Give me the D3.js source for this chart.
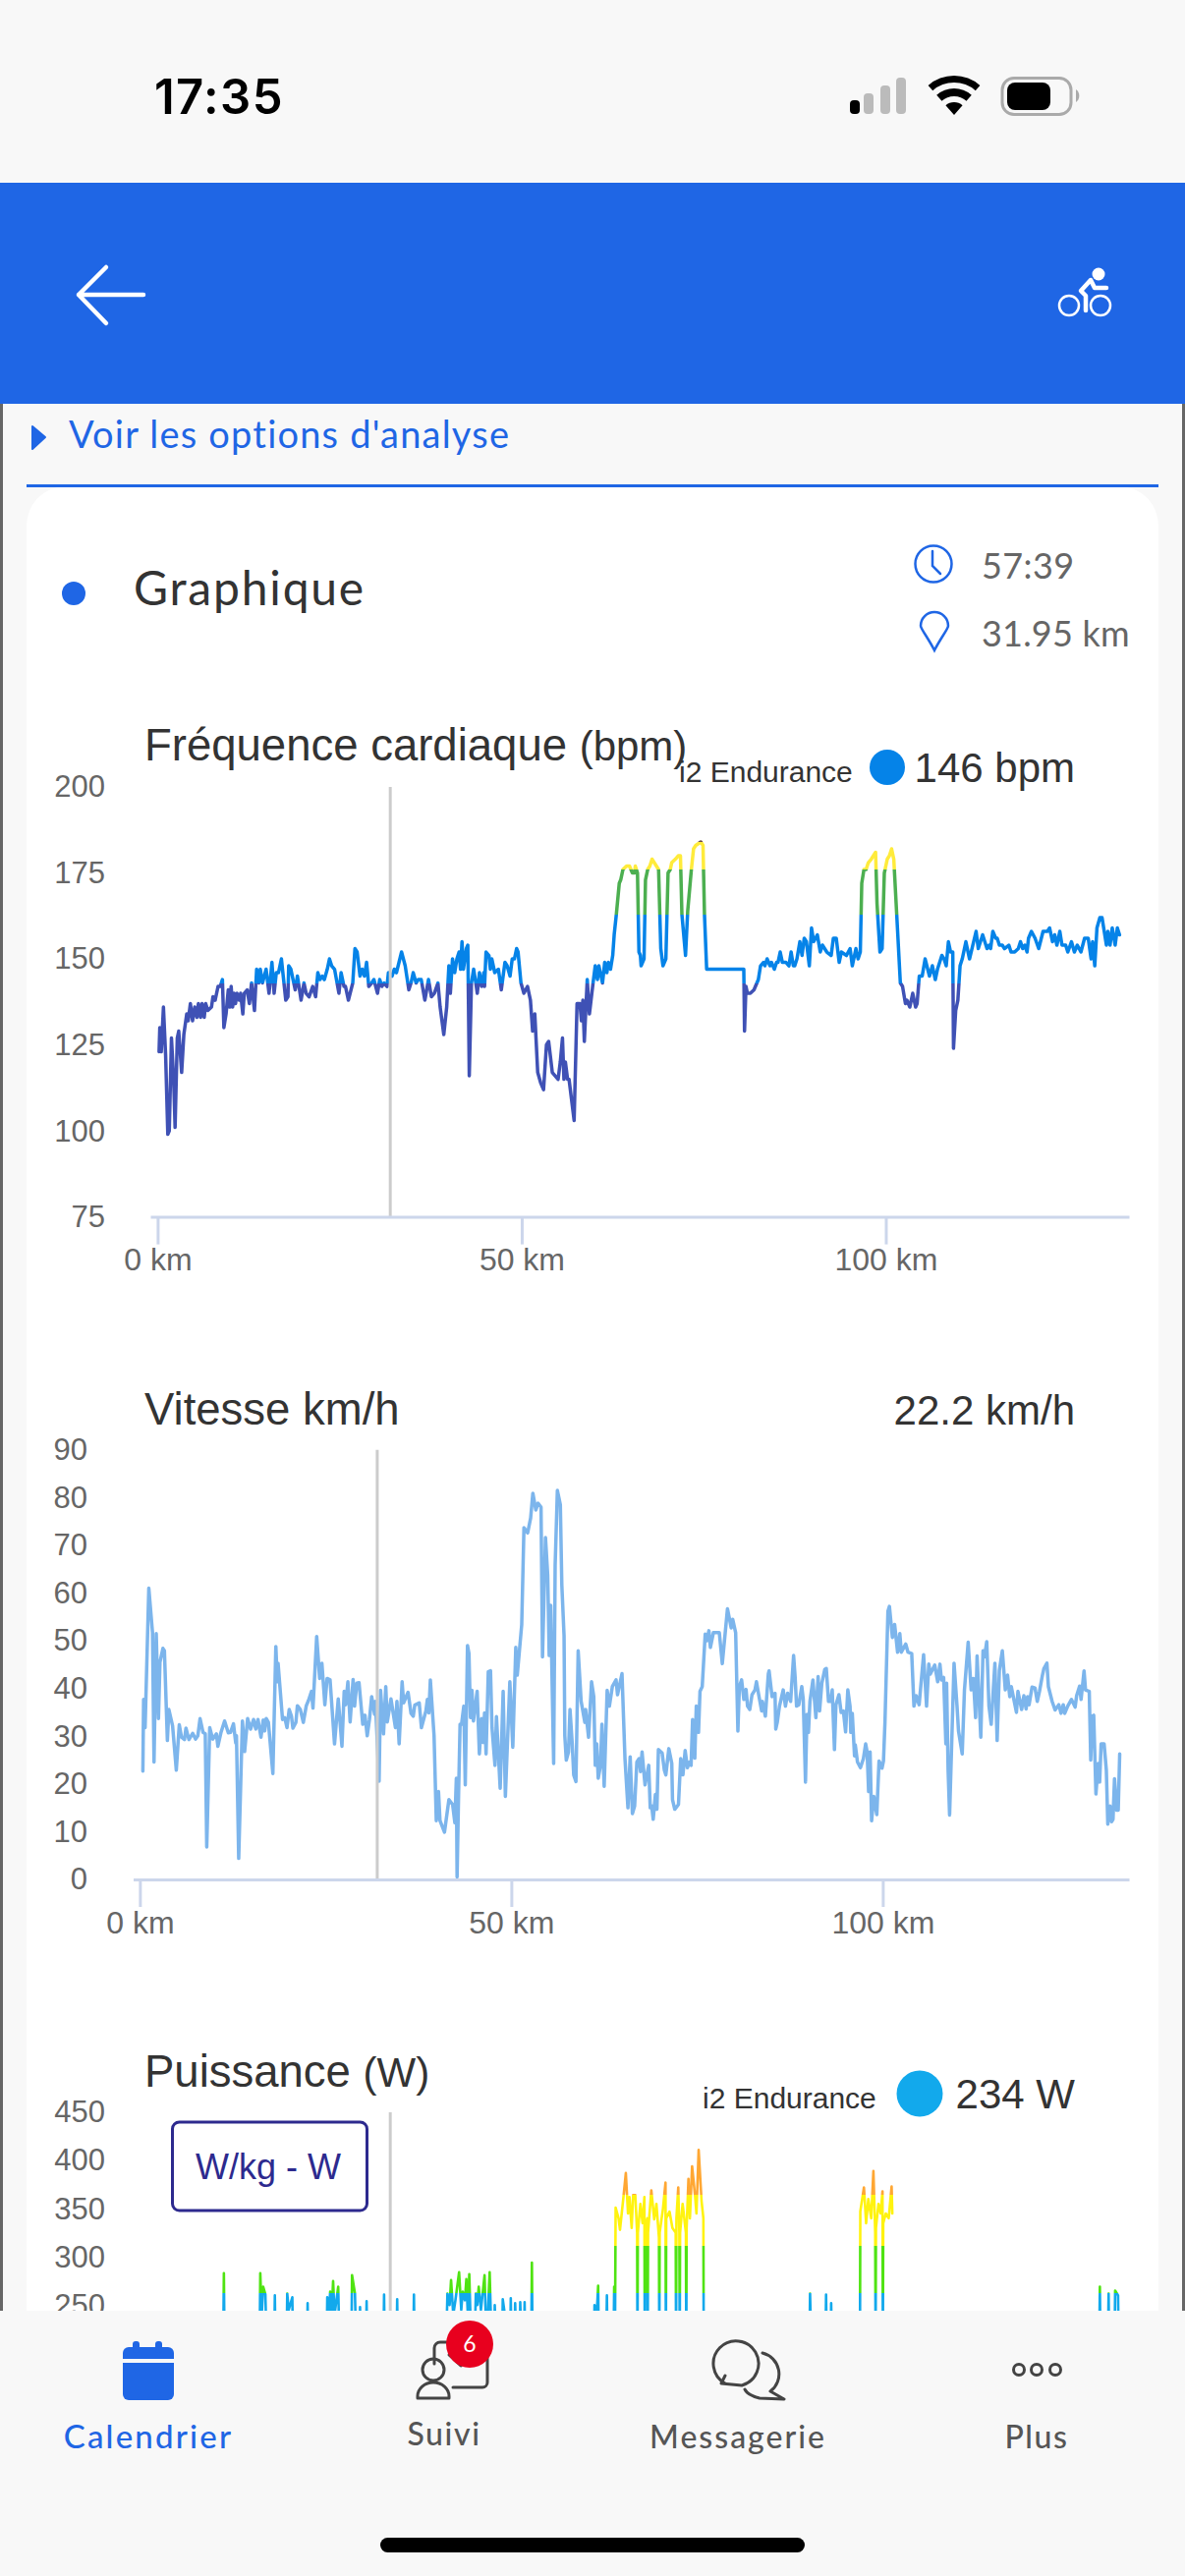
<!DOCTYPE html>
<html>
<head>
<meta charset="utf-8">
<script src="https://cdn.jsdelivr.net/npm/d3@7"></script>
<style>
html, body { margin: 0; padding: 0; background: #f8f8f8; }
svg { display: block; }
.chart text { font-family: "Liberation Sans", Arial, sans-serif; }
.app { font-family: Lato, sans-serif; }
.tick text { fill: #666; }
</style>
</head>
<body>
<svg width="1206" height="2622"></svg>
<script>
// values: [km, value]
var heartRate = [[0.2,123],[0.3,130],[0.5,123],[0.8,136],[1.1,122],[1.4,99],[1.6,100],[1.9,127],[2.2,115],[2.4,101],[2.7,127],[2.9,129],[3.3,117],[3.6,128],[4.0,134],[4.2,132],[4.5,137],[4.8,132],[5.1,136],[5.4,133],[5.6,137],[5.9,133],[6.1,137],[6.4,133],[6.6,137],[6.9,135],[7.4,136],[7.6,139],[7.9,138],[8.3,142],[8.6,142],[8.9,144],[9.1,130],[9.4,134],[9.7,141],[9.9,136],[10.1,142],[10.3,136],[10.5,140],[10.7,137],[10.9,140],[11.2,138],[11.4,140],[11.7,134],[11.9,140],[12.3,141],[12.6,137],[12.9,143],[13.3,135],[13.6,147],[13.9,143],[14.1,147],[14.4,143],[14.9,147],[15.3,140],[15.7,149],[16.0,140],[16.3,146],[16.6,146],[17.0,150],[17.6,138],[17.9,139],[18.0,148],[18.3,147],[18.6,144],[18.9,141],[19.2,145],[19.7,138],[20.1,143],[20.4,140],[20.8,139],[21.3,142],[21.7,139],[22.0,146],[22.3,144],[22.6,145],[22.9,144],[23.3,147],[23.6,150],[23.9,148],[24.3,147],[24.9,140],[25.2,146],[25.6,142],[25.8,142],[26.2,138],[26.8,143],[27.1,153],[27.4,152],[27.8,145],[28.1,147],[28.4,145],[28.7,149],[29.0,142],[29.4,143],[29.7,144],[30.2,140],[30.5,144],[30.8,142],[31.1,143],[31.5,142],[31.7,146],[32.2,145],[32.5,147],[32.8,146],[33.5,152],[34.0,148],[34.5,141],[34.8,143],[35.1,146],[35.5,143],[35.8,144],[36.2,144],[36.7,138],[37.2,144],[37.6,139],[38.0,140],[38.5,143],[38.8,136],[39.3,128],[39.7,136],[40.0,148],[40.2,140],[40.5,150],[40.8,146],[41.1,150],[41.4,152],[41.6,147],[41.8,155],[42.0,147],[42.4,153],[42.6,154],[42.8,116],[43.1,143],[43.4,147],[43.7,143],
[43.9,140],[44.2,146],[44.5,142],[44.8,146],[44.9,142],[45.1,152],[45.5,151],[45.7,147],[45.9,150],[46.3,146],[46.8,147],[47.2,141],[47.7,149],[48.0,148],[48.4,145],[48.7,150],[49.0,150],[49.3,153],[49.5,152],[49.9,143],[50.3,140],[50.8,142],[51.2,138],[51.5,129],[51.8,134],[52.2,117],[52.6,114],[53.0,112],[53.4,125],[53.7,126],[54.2,117],[54.6,116],[55.0,115],[55.3,120],[55.6,127],[55.8,115],[56.0,120],[56.3,115],[56.5,115],[57.2,103],[57.6,137],[58.0,137],[58.2,132],[58.4,138],[58.6,126],[59.0,144],[59.3,134],[59.8,143],[60.1,148],[60.4,144],[60.6,148],[61.1,143],[61.4,149],[61.7,146],[61.9,149],[62.2,147],[62.5,151],[62.7,157],[63.0,163],[63.4,172],[63.6,173],[63.9,176],[64.4,177],[64.8,177],[65.2,175],[65.5,175],[65.6,177],[65.9,175],[66.1,152],[66.3,151],[66.4,148],[66.8,150],[67.0,173],[67.3,176],[67.6,177],[67.9,179],[68.2,178],[68.8,176],[69.1,153],[69.4,148],[69.8,150],[70.1,175],[70.4,176],[70.6,178],[71.1,179],[71.5,180],[71.8,180],[72.0,163],[72.5,151],[72.8,164],[73.3,176],[73.6,182],[73.9,183],[74.6,184],[74.9,183],[75.1,163],[75.4,147],[80.5,147],[80.6,129],[80.8,142],[81.0,140],[81.4,140],[81.9,141],[82.5,144],[82.8,148],[83.2,149],[83.4,148],[83.7,150],[84.1,148],[84.3,149],[84.7,147],[85.0,149],[85.2,149],[85.5,152],[85.8,149],[86.3,149],[86.7,148],[87.0,152],[87.3,148],
[87.5,148],[87.8,150],[88.2,155],[88.5,151],[88.8,156],[89.1,155],[89.5,148],[89.8,159],[90.1,155],[90.6,157],[91.0,152],[91.3,154],[91.9,152],[92.5,151],[92.8,156],[93.2,156],[93.6,149],[93.9,152],[94.6,151],[95.1,153],[95.4,148],[95.9,153],[96.2,150],[96.5,152],[96.7,172],[97.0,176],[97.3,176],[97.6,178],[98.0,179],[98.6,181],[98.8,166],[99.2,152],[99.5,153],[99.8,175],[100.2,179],[100.5,180],[100.8,182],[101.1,179],[101.5,163],[102.0,143],[102.3,142],[102.7,137],[102.9,138],[103.3,136],[103.7,140],[104.1,136],[104.3,137],[104.6,145],[105.0,145],[105.4,150],[106.0,145],[106.4,148],[106.8,144],[107.1,147],[107.7,151],[108.0,150],[108.3,148],[108.6,155],[108.9,152],[109.2,152],[109.3,124],[109.6,135],[109.9,138],[110.2,148],[110.5,150],[111.0,155],[111.5,150],[112.4,158],[112.7,153],[113.3,157],[113.9,153],[114.2,154],[114.4,153],[114.7,158],[115.1,156],[115.3,156],[115.6,154],[116.0,154],[116.3,153],[116.9,154],[117.2,152],[117.7,152],[118.2,153],[118.5,155],[118.8,153],[119.1,154],[119.4,152],[119.6,156],[120.0,158],[120.5,156],[121.0,153],[121.6,158],[122.2,158],[122.5,159],[122.9,155],[123.2,157],[123.5,154],[123.9,158],[124.2,154],[124.7,154],[125.0,152],[125.5,155],[125.9,152],[126.3,154],[126.8,152],[127.3,156],[127.8,156],[128.2,150],[128.4,155],[128.7,148],[129.0,159],[129.4,162],[129.7,162],[130.3,154],[130.5,158],[130.8,154],[131.1,159],[131.5,154],[131.8,159],[132.1,157]];

var speed = [[0.4,22.7],[0.5,37.7],[0.7,31.8],[1.2,61.0],[1.7,51.7],[1.9,24.6],[2.2,51.5],[2.5,33.7],[2.7,45.5],[3.1,48.4],[3.3,47.9],[3.7,29.1],[3.9,35.6],[4.4,32.2],[4.9,22.9],[5.3,32.4],[5.6,29.8],[6.0,29.3],[6.2,31.7],[6.6,29.3],[7.1,30.6],[7.5,29.4],[7.8,30.1],[8.1,33.7],[8.5,30.8],[8.8,30.5],[9.0,6.8],[9.4,31.8],[9.8,29.4],[10.3,30.5],[10.5,27.9],[10.9,30.7],[11.4,33.2],[11.9,30.7],[12.2,30.8],[12.6,32.6],[12.9,28.6],[13.0,30.1],[13.3,4.4],[13.8,33.2],[14.1,26.8],[14.5,33.7],[14.9,31.5],[15.3,33.5],[15.6,31.5],[15.9,33.5],[16.3,29.8],[16.6,33.4],[16.8,31.1],[17.0,33.7],[17.3,32.9],[17.9,22.2],[18.3,48.8],[18.5,41.4],[18.6,45.3],[19.2,33.5],[19.5,33.9],[19.8,31.8],[20.1,35.6],[20.4,34.2],[20.6,31.7],[21.0,32.9],[21.2,36.4],[21.6,35.6],[22.0,32.9],[22.4,36.4],[22.7,37.5],[23.1,39.4],[23.3,35.9],[23.8,50.9],[24.2,42.1],[24.5,45.3],[24.9,36.6],[25.2,42.1],[25.6,41.8],[26.2,28.4],[26.7,37.8],[27.2,27.9],[27.5,39.4],[27.7,36.6],[28.0,41.4],[28.3,33.0],[28.7,41.9],[28.9,36.3],[29.2,41.1],[29.5,41.2],[30.0,32.5],[30.3,34.4],[30.6,30.1],[30.9,33.5],[31.2,38.3],[31.6,34.6],[31.7,37.3],[32.2,20.6],[32.4,39.6],[32.8,30.5],[33.1,40.4],[33.3,33.0],[33.8,37.8],[34.4,31.8],[34.6,37.3],[34.9,28.4],[35.3,41.4],[35.5,37.0],[36.1,39.2],[36.5,34.8],[36.8,34.2],[37.0,36.5],[37.6,37.0],[37.9,31.8],[38.5,35.3],[38.7,37.7],[38.9,34.9],[39.1,41.8],[39.6,30.1],[39.9,12.3],[40.2,18.4],[40.4,12.3],[41.0,9.9],[41.6,16.7],
[42.1,15.7],[42.4,11.9],[42.6,21.2],[42.7,0.5],[42.9,17.8],[43.1,32.5],[43.3,32.5],[43.6,36.3],[43.8,19.8],[44.1,49.0],[44.3,47.3],[44.5,33.9],[44.7,39.6],[44.9,33.2],[45.4,39.4],[45.7,26.3],[46.0,33.7],[46.2,28.7],[46.4,34.9],[46.6,26.3],[46.9,43.5],[47.2,43.7],[47.4,31.8],[47.8,23.9],[48.0,34.1],[48.5,19.1],[48.9,39.4],[49.2,17.4],[49.8,41.4],[50.2,27.7],[50.6,48.6],[50.8,42.8],[51.4,53.4],[51.7,73.7],[52.2,72.6],[52.6,75.7],[52.9,80.9],[53.3,77.4],[53.6,78.8],[54.0,78.0],[54.2,46.6],[54.6,71.6],[54.9,63.7],[55.1,46.9],[55.3,57.4],[55.7,24.3],[55.9,65.8],[56.2,81.5],[56.6,78.5],[56.8,61.7],[57.1,51.0],[57.2,30.1],[57.4,25.0],[57.7,26.7],[57.9,35.6],[58.2,28.4],[58.4,21.9],[58.7,20.5],[59.0,47.9],[59.4,37.3],[59.9,32.9],[60.0,35.6],[60.4,29.8],[60.8,41.4],[61.1,38.3],[61.3,23.9],[61.5,28.4],[61.7,21.2],[62.0,23.9],[62.2,32.5],[62.5,19.5],[62.9,39.6],[63.2,36.3],[63.6,40.4],[64.1,41.8],[64.3,38.7],[64.9,43.1],[65.3,25.3],[65.7,15.0],[66.0,25.7],[66.3,13.8],[66.6,15.4],[66.9,24.6],[67.2,25.3],[67.4,22.6],[67.6,26.7],[68.0,19.8],[68.5,23.9],[68.7,15.0],[68.9,15.4],[69.1,12.6],[69.4,17.8],[69.6,14.7],[69.8,27.2],[70.3,26.5],[70.6,22.9],[70.8,21.9],[71.0,24.6],[71.2,27.4],[71.6,24.3],[71.7,16.7],[72.0,14.7],[72.5,15.7],[72.8,25.3],[73.1,21.9],[73.4,27.0],[73.7,23.4],[74.0,24.6],[74.2,23.9],[74.4,33.5],[74.7,25.4],[74.9,36.3],[75.2,30.8],[75.4,39.4],[75.7,40.4],[76.1,51.4],[76.3,50.0],[76.6,52.1],[76.8,48.6],[77.2,51.7],[78.0,51.7],[78.4,45.2],[79.1,56.7],[79.6,52.7],[79.8,54.5],[80.2,51.7],[80.5,31.1],[80.7,40.4],[81.0,41.8],[81.3,37.7],[81.6,39.8],[81.8,36.3],[82.1,35.6],[82.4,38.7],[82.8,39.7],[83.0,41.4],[83.3,38.7],[83.7,35.3],[83.8,37.3],[84.2,34.2],[84.6,43.1],[84.7,43.7],[85.1,38.3],[85.5,39.0],[85.6,31.5],[85.8,32.9],[86.1,36.3],[86.6,39.7],[86.9,36.3],[87.2,39.0],[87.6,37.3],[88.0,46.9],[88.2,42.5],[88.4,36.3],[88.7,36.6],[89.1,40.4],[89.3,37.7],[89.6,20.4],[89.8,34.6],[90.0,30.8],[90.2,37.3],[90.6,41.8],
[91.0,33.9],[91.3,42.5],[91.5,35.3],[91.8,41.1],[92.2,44.0],[92.4,44.2],[92.7,37.3],[93.0,37.3],[93.2,39.7],[93.5,27.2],[93.7,36.6],[94.1,38.7],[94.4,35.0],[94.7,35.3],[95.0,30.9],[95.3,39.7],[95.6,36.3],[95.7,30.8],[95.9,34.8],[96.2,25.9],[96.3,28.2],[96.6,24.6],[97.0,23.4],[97.4,25.3],[97.7,28.4],[97.9,26.7],[98.1,18.4],[98.3,26.7],[98.5,12.3],[98.8,17.4],[99.2,13.6],[99.5,24.8],[99.8,23.9],[99.9,23.3],[100.1,24.8],[100.3,32.9],[100.7,56.2],[100.9,57.2],[101.3,50.7],[101.6,53.4],[102.0,47.6],[102.3,51.5],[102.5,47.6],[103.1,49.3],[103.4,47.6],[103.9,47.3],[104.2,36.3],[104.5,38.5],[104.9,36.6],[105.5,47.1],[105.9,36.3],[106.2,45.1],[106.4,43.0],[107.0,44.9],[107.4,41.4],[107.7,45.1],[107.9,41.8],[108.2,42.3],[108.5,28.4],[108.6,41.1],[108.8,22.9],[109.0,13.5],[109.6,45.3],[110.0,36.3],[110.2,31.1],[110.7,26.3],[111.0,39.7],[111.5,49.7],[111.9,39.7],[112.2,42.1],[112.5,33.9],[112.7,46.8],[113.2,29.8],[113.5,47.9],[113.7,46.6],[114.0,49.8],[114.3,36.3],[114.6,32.5],[115.1,45.3],[115.4,29.1],[115.7,43.8],[116.1,47.9],[116.5,39.7],[116.8,42.8],[117.1,38.3],[117.3,40.4],[118.0,35.0],[118.2,39.4],[118.7,35.6],[119.0,38.5],[119.3,35.7],[119.5,38.3],[119.7,36.6],[120.1,40.3],[120.5,40.1],[120.8,37.3],[121.1,39.4],[121.5,42.8],[121.7,44.2],[122.1,45.3],[122.3,40.4],[122.8,37.3],[123.2,35.5],[123.7,36.6],[124.0,34.8],[124.3,36.6],[124.5,34.8],[124.9,36.3],[125.4,37.7],[125.9,36.1],[126.1,38.5],[126.5,40.5],[126.7,37.7],[127.1,43.7],[127.3,39.7],[127.8,39.4],[128.0,25.0],[128.2,34.2],[128.4,34.4],[128.7,17.9],[129.0,24.3],[129.2,20.4],[129.4,28.4],[129.8,28.4],[130.1,22.9],[130.3,11.6],[130.6,15.4],[130.8,12.1],[131.0,12.6],[131.2,21.1],[131.5,14.5],[131.7,14.5],[131.9,26.3]];

// only the top of this series is visible, the rest sits behind the tab bar
var power = [[0.2,200],[9.0,200],[9.1,283],[9.2,200],[14.0,200],[14.1,283],[14.3,240],[14.5,269],[14.8,261],[15.0,200],[16.0,200],[16.1,260],[16.2,200],[17.7,200],[17.8,262],[18.0,245],[18.5,258],[18.6,200],[20.5,200],[20.6,252],[20.7,200],[23.2,200],[23.3,258],[23.5,240],[23.7,264],[23.9,240],[24.1,275],[24.3,240],[24.8,269],[25.0,200],[26.6,200],[26.7,281],[27.1,262],[27.3,200],[27.7,200],[27.8,248],[27.9,200],[28.6,200],[28.7,254],[28.8,200],[31.0,200],[31.1,261],[31.2,200],[32.8,200],[32.9,256],[33.0,200],[35.1,200],[35.2,261],[35.3,200],[39.6,200],[39.8,262],[40.1,250],[40.3,276],[40.6,240],[40.9,255],[41.4,284],[41.7,245],[41.9,264],[42.2,255],[42.4,277],[42.6,240],[42.8,282],[43.1,200],[43.5,200],[43.7,262],[43.9,250],[44.1,269],[44.4,245],[44.9,281],[45.2,200],[45.4,250],[45.6,284],[45.9,200],[46.2,200],[46.3,250],[46.5,200],[47.3,200],[47.4,256],[47.6,245],[48.4,200],[48.5,257],[48.6,200],[49.0,200],[49.1,252],[49.3,200],[49.7,200],[49.8,253],[50.0,200],[50.3,200],[50.4,253],[50.5,200],[51.3,200],[51.4,294],[51.5,200],[59.9,200],[60.0,250],[60.3,240],[60.5,270],[60.6,200],[61.6,200],[61.7,260],[61.8,200],[62.6,200],[62.7,269],[62.8,200],
[62.9,351],[63.3,340],[63.5,328],[64.0,364],[64.3,387],[64.6,345],[64.8,362],[65.1,330],[65.3,364],[65.6,364],[65.85,325],[65.9,200],[65.95,325],[66.3,355],[66.6,335],[66.85,362],[66.9,200],[66.95,330],[67.25,340],[67.3,200],[67.35,325],[67.8,369],[68.2,339],[68.5,355],[68.85,320],[68.9,200],[68.95,325],[69.4,350],[69.75,377],[69.8,200],[69.85,340],[70.3,347],[70.7,330],[71.15,325],[71.2,200],[71.25,340],[71.5,372],[71.65,325],[71.7,200],[71.75,325],[72.1,355],[72.55,325],[72.6,200],[72.65,330],[72.9,381],[73.1,340],[73.4,394],[73.8,364],[74.0,345],[74.3,411],[74.7,358],[74.95,340],[75.0,200],[89.5,200],[89.6,262],[89.8,200],[91.7,200],[91.8,261],[91.9,200],[92.4,200],[92.5,252],[92.6,200],[96.45,200],
[96.5,347],[97.0,372],[97.3,335],[97.6,360],[98.0,340],[98.3,389],[98.55,325],[98.6,200],[98.65,330],[99.0,355],[99.3,345],[99.55,368],[99.6,200],[99.65,335],[100.0,345],[100.4,340],[100.8,373],[100.9,345],[null,null],[129.3,200],[129.4,269],[129.5,200],[130.5,200],[130.6,262],[130.7,200],[131.4,200],[131.5,265],[131.9,260],[132.0,200]];

var hrTicks = [75, 100, 125, 150, 175, 200];
var speedTicks = [0, 10, 20, 30, 40, 50, 60, 70, 80, 90];
var powerTicks = [250, 300, 350, 400, 450];
var kmTicks = [0, 50, 100];
var cursorKm = 31.95; // the 31.95 km shown next to the pin

var hrZones = [[143, "#3f51b5"], [163, "#0583e8"], [176, "#4caf50"], [184, "#ffeb3b"], [500, "#6d4c41"]];
var powerZones = [[262, "#12a9ec"], [311, "#4fe312"], [364, "#fff30f"], [500, "#ffa733"]];

var blue = "#1f66e5", ink = "#333";

var svg = d3.select("svg");

// --- page chrome behind the charts
svg.append("rect").attr("width", 1206).attr("height", 2622).attr("fill", "#f8f8f8");
svg.append("rect").attr("y", 186).attr("width", 1206).attr("height", 225).attr("fill", blue);
svg.append("rect").attr("x", 0).attr("y", 411).attr("width", 3).attr("height", 1941).attr("fill", "#666");
svg.append("rect").attr("x", 1203).attr("y", 411).attr("width", 3).attr("height", 1941).attr("fill", "#666");
svg.append("path").attr("d", "M27,2622V535a40,40 0 0 1 40,-40H1139a40,40 0 0 1 40,40V2622Z").attr("fill", "#fff");
svg.append("rect").attr("x", 27).attr("y", 493).attr("width", 1152).attr("height", 3).attr("fill", blue);

// status bar
svg.append("text").attr("x", 157).attr("y", 116).attr("font-family", "Inter").attr("font-weight", 600)
    .attr("font-size", 49).attr("letter-spacing", 1.4).attr("fill", "#000").text("17:35");
[[865, 102, "#000"], [879, 95, "#bbb"], [896, 87, "#bbb"], [912, 79, "#bbb"]].forEach(function(b) {
  svg.append("rect").attr("x", b[0]).attr("y", b[1]).attr("width", 10).attr("height", 116 - b[1]).attr("rx", 4).attr("fill", b[2]);
});
[[0, 13], [19, 27], [33, 40]].forEach(function(r) {
  svg.append("path").attr("transform", "translate(971,117)")
    .attr("d", d3.arc()({innerRadius: r[0], outerRadius: r[1], startAngle: -0.72, endAngle: 0.72}));
});
svg.append("rect").attr("x", 1020).attr("y", 79.5).attr("width", 70).attr("height", 37).attr("rx", 12)
    .attr("fill", "none").attr("stroke", "#aaa").attr("stroke-width", 3);
svg.append("rect").attr("x", 1025).attr("y", 84).attr("width", 44).attr("height", 28).attr("rx", 8).attr("fill", "#000");
svg.append("path").attr("d", "M1095,91a8,8 0 0 1 0,13Z").attr("fill", "#aaa");

// header icons
svg.append("path").attr("d", "M146,300H80M108,272L80,300L108,329").attr("fill", "none")
    .attr("stroke", "#fff").attr("stroke-width", 4.5).attr("stroke-linecap", "round").attr("stroke-linejoin", "round");
svg.append("circle").attr("cx", 1088).attr("cy", 311).attr("r", 10).attr("fill", "none").attr("stroke", "#fff").attr("stroke-width", 2.5);
svg.append("circle").attr("cx", 1120).attr("cy", 311).attr("r", 10).attr("fill", "none").attr("stroke", "#fff").attr("stroke-width", 2.5);
svg.append("circle").attr("cx", 1118).attr("cy", 279).attr("r", 6.5).attr("fill", "#fff");
svg.append("path").attr("d", "M1126,293H1114L1110,285L1100,296L1105,301V316").attr("fill", "none")
    .attr("stroke", "#fff").attr("stroke-width", 4.5).attr("stroke-linecap", "round").attr("stroke-linejoin", "round");

// options row
svg.append("path").attr("d", "M33,434L46,445L33,457Z").attr("fill", blue).attr("stroke", blue).attr("stroke-width", 2).attr("stroke-linejoin", "round");
svg.append("text").attr("class", "app").attr("x", 70).attr("y", 456).attr("font-size", 38).attr("letter-spacing", 1.2).attr("fill", blue)
    .text("Voir les options d'analyse");

// card header
svg.append("circle").attr("cx", 75).attr("cy", 604).attr("r", 12).attr("fill", blue);
svg.append("text").attr("class", "app").attr("x", 136).attr("y", 616).attr("font-size", 48).attr("letter-spacing", 1.8).attr("fill", ink).text("Graphique");
svg.append("circle").attr("cx", 950).attr("cy", 574).attr("r", 18.5).attr("fill", "none").attr("stroke", blue).attr("stroke-width", 2.5);
svg.append("path").attr("d", "M949,561V576L957,584").attr("fill", "none").attr("stroke", blue).attr("stroke-width", 2.5).attr("stroke-linecap", "round");
svg.append("path").attr("d", "M951,662C945,650 937,640 937,637A14,14 0 0 1 965,637C965,640 957,650 951,662Z").attr("fill", "none").attr("stroke", blue).attr("stroke-width", 2.5);
svg.append("text").attr("class", "app").attr("x", 999).attr("y", 589).attr("font-size", 36).attr("letter-spacing", 0.4).attr("fill", "#666").text("57:39");
svg.append("text").attr("class", "app").attr("x", 999).attr("y", 658).attr("font-size", 36).attr("letter-spacing", 0.2).attr("fill", "#666").text("31.95 km");

// --- one chart: line with optional value zones, km axis, value axis, cursor
function drawChart(opts) {
  var g = svg.append("g").attr("class", "chart");
  var color = opts.color;

  if (opts.zones) {
    // hard colour stops along y so the line changes colour at each threshold
    var top = opts.zones[opts.zones.length - 1][0];
    var grad = svg.append("defs").append("linearGradient").attr("id", opts.id)
        .attr("gradientUnits", "userSpaceOnUse")
        .attr("x1", 0).attr("x2", 0).attr("y1", opts.y(0)).attr("y2", opts.y(top));
    var from = 0;
    opts.zones.forEach(function(z) {
      grad.append("stop").attr("offset", from / top).attr("stop-color", z[1]);
      grad.append("stop").attr("offset", z[0] / top).attr("stop-color", z[1]);
      from = z[0];
    });
    color = "url(#" + opts.id + ")";
  }

  var line = d3.line()
      .defined(function(d) { return d[0] !== null; })
      .x(function(d) { return opts.x(d[0]); })
      .y(function(d) { return opts.y(d[1]); });

  g.append("path").datum(opts.data).attr("d", line).attr("fill", "none")
      .attr("stroke", color).attr("stroke-width", opts.width)
      .attr("stroke-linejoin", "round").attr("stroke-linecap", "round");

  g.append("line").attr("x1", opts.x(cursorKm)).attr("x2", opts.x(cursorKm))
      .attr("y1", opts.y.range()[1]).attr("y2", opts.y.range()[0])
      .attr("stroke", "#ccc").attr("stroke-width", 3);

  var yAxis = g.append("g").attr("transform", "translate(" + opts.labelX + ",0)")
      .call(d3.axisLeft(opts.y).tickValues(opts.yTicks).tickSize(0).tickPadding(0));
  yAxis.select(".domain").remove();
  yAxis.selectAll("text").attr("font-size", 31);

  // the power chart's km axis is scrolled out of view
  if (opts.kmAxis !== false) {
    var xAxis = g.append("g").attr("transform", "translate(0," + opts.y.range()[0] + ")")
        .call(d3.axisBottom(opts.x).tickValues(kmTicks).tickSize(28).tickSizeOuter(0).tickPadding(4)
          .tickFormat(function(d) { return d + " km"; }));
    xAxis.selectAll(".domain, .tick line").attr("stroke", "#ccd6eb").attr("stroke-width", 3);
    xAxis.selectAll("text").attr("font-size", 32);
  }
  return g;
}

function label(g, x, y, size, anchor, txt, fill) {
  return g.append("text").attr("x", x).attr("y", y).attr("font-size", size)
      .attr("text-anchor", anchor).attr("fill", fill || ink).text(txt);
}

// heart rate
var hrX = d3.scaleLinear().domain([-1, 133.4]).range([153, 1149]);
var hrY = d3.scaleLinear().domain([75, 200]).range([1238.6, 801]);
var hrG = drawChart({id: "hrZone", data: heartRate, x: hrX, y: hrY, yTicks: hrTicks, labelX: 107, zones: hrZones, width: 3.5});
var hrTitle = label(hrG, 147, 774, 45.5, "start", "Fréquence cardiaque ");
hrTitle.append("tspan").attr("font-size", 42).text("(bpm)");
label(hrG, 691, 796, 30, "start", "i2 Endurance");
hrG.append("circle").attr("cx", 903).attr("cy", 781).attr("r", 18).attr("fill", "#0583e8");
label(hrG, 1094, 796, 42, "end", "146 bpm");

// speed
var speedX = d3.scaleLinear().domain([-0.91, 133.15]).range([135.5, 1149]);
var speedY = d3.scaleLinear().domain([0, 90]).range([1913, 1475.7]);
var speedG = drawChart({id: "speedLine", data: speed, x: speedX, y: speedY, yTicks: speedTicks, labelX: 89, color: "#7cb5ec", width: 3.5});
label(speedG, 147, 1450, 45.5, "start", "Vitesse km/h");
label(speedG, 1094, 1450, 42, "end", "22.2 km/h");

// power, the bottom of the plot sits behind the tab bar
var powerY = d3.scaleLinear().domain([0, 450]).range([2591.5, 2150]);
var powerG = drawChart({id: "powerZone", data: power, x: hrX, y: powerY, yTicks: powerTicks, labelX: 107, zones: powerZones, width: 2.6, kmAxis: false});
var powerTitle = label(powerG, 147, 2124, 45.5, "start", "Puissance ");
powerTitle.append("tspan").attr("font-size", 42).text("(W)");
label(powerG, 715, 2146, 30, "start", "i2 Endurance");
powerG.append("circle").attr("cx", 936).attr("cy", 2131).attr("r", 23.5).attr("fill", "#12a9ec");
label(powerG, 1094, 2146, 42, "end", "234 W");
powerG.append("rect").attr("x", 175.5).attr("y", 2160).attr("width", 198).attr("height", 90).attr("rx", 7)
    .attr("fill", "#fff").attr("stroke", "#2d2a8e").attr("stroke-width", 3);
label(powerG, 273, 2218, 36, "middle", "W/kg - W", "#2d2a8e");

// --- tab bar on top
svg.append("rect").attr("y", 2352).attr("width", 1206).attr("height", 270).attr("fill", "#f8f8f8");

var tabs = [["Calendrier", 151, 2492, blue, 33, 2.2], ["Suivi", 452, 2489, "#555", 32, 1.6], ["Messagerie", 751, 2492, "#555", 32, 2], ["Plus", 1055, 2492, "#555", 32, 1.6]];
tabs.forEach(function(t) {
  svg.append("text").attr("class", "app").attr("x", t[1]).attr("y", t[2]).attr("text-anchor", "middle")
    .attr("font-size", t[4]).attr("font-weight", 500).attr("letter-spacing", t[5]).attr("fill", t[3]).text(t[0]);
});

// calendar
svg.append("rect").attr("x", 125).attr("y", 2389).attr("width", 52).attr("height", 54).attr("rx", 6).attr("fill", blue);
svg.append("rect").attr("x", 135).attr("y", 2383).attr("width", 7).attr("height", 12).attr("rx", 3).attr("fill", blue);
svg.append("rect").attr("x", 158).attr("y", 2383).attr("width", 7).attr("height", 12).attr("rx", 3).attr("fill", blue);
svg.append("rect").attr("x", 125).attr("y", 2401).attr("width", 52).attr("height", 4).attr("fill", "#f8f8f8");

// follow-up: person + envelope + badge
var iconInk = "#444";
function stroked(d) {
  return svg.append("path").attr("d", d).attr("fill", "none").attr("stroke", iconInk).attr("stroke-width", 3)
      .attr("stroke-linecap", "round").attr("stroke-linejoin", "round");
}
svg.append("circle").attr("cx", 441).attr("cy", 2412).attr("r", 11).attr("fill", "none").attr("stroke", iconInk).attr("stroke-width", 3);
stroked("M425,2441V2439A16,14 0 0 1 457,2439V2441Z");
stroked("M442,2406V2390A6,6 0 0 1 448,2384H470");
stroked("M496,2400V2425A5,5 0 0 1 491,2430H461");
stroked("M457,2397L469,2408L480,2397");
svg.append("circle").attr("cx", 478).attr("cy", 2386).attr("r", 24).attr("fill", "#e8001e");
svg.append("text").attr("class", "app").attr("x", 478).attr("y", 2394).attr("text-anchor", "middle").attr("font-size", 23).attr("fill", "#fff").text("6");

// messages
stroked("M738,2426A23,23 0 1 1 755,2428L734,2426L738,2418");
stroked("M776,2395A22,22 0 0 1 784,2434L798,2442L773,2441C765,2439 760,2436 758,2432");

// more
[1037, 1055, 1074].forEach(function(cx) {
  svg.append("circle").attr("cx", cx).attr("cy", 2412).attr("r", 5.5).attr("fill", "none").attr("stroke", iconInk).attr("stroke-width", 3);
});

// home indicator
svg.append("rect").attr("x", 387).attr("y", 2583).attr("width", 432).attr("height", 15).attr("rx", 7.5).attr("fill", "#000");
</script>
</body>
</html>
